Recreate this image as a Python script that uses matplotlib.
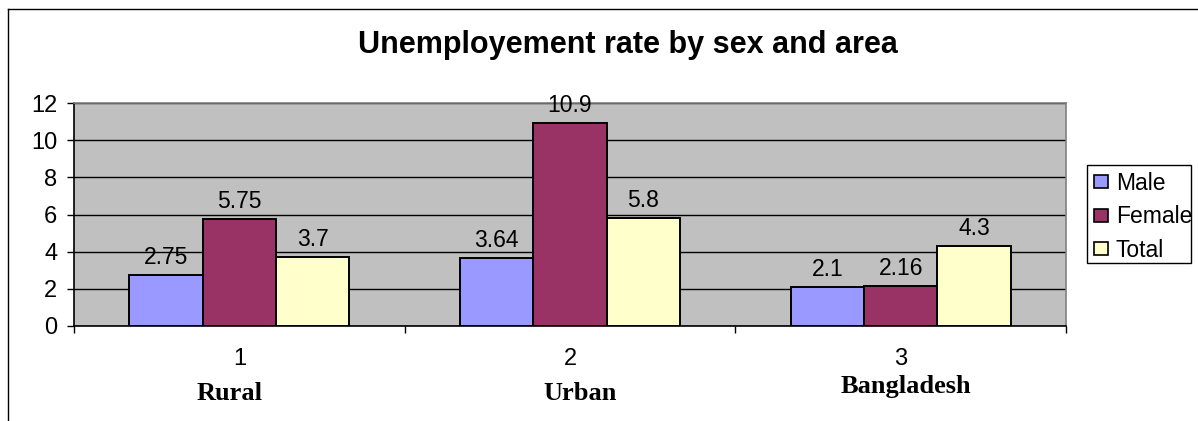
import matplotlib.pyplot as plt
import numpy as np
from matplotlib.lines import Line2D
from matplotlib.patches import Rectangle

areas = ["Rural", "Urban", "Bangladesh"]
tick_nums = ["1", "2", "3"]
series = ["Male", "Female", "Total"]
male = [2.75, 3.64, 2.1]
female = [5.75, 10.9, 2.16]
total = [3.7, 5.8, 4.3]
colors = ["#9999FF", "#993366", "#FFFFCC"]

W, H = 1198, 421
fig = plt.figure(figsize=(W / 100, H / 100), dpi=100)
ax = fig.add_axes([74 / W, 1 - 326 / H, (1066 - 74) / W, (326 - 103) / H])
ax.set_facecolor("#C0C0C0")

x = np.arange(1, 4)
bw = 0.222
for i, (name, vals) in enumerate(zip(series, [male, female, total])):
    pos = x + (i - 1) * bw
    bars = ax.bar(pos, vals, bw, color=colors[i], edgecolor="black",
                  linewidth=1.4, label=name, zorder=3)
    for b, v in zip(bars, vals):
        ax.annotate(f"{v:g}", (b.get_x() + b.get_width() / 2, v),
                    xytext=(0, 11), textcoords="offset pixels",
                    ha="center", va="baseline", fontsize=16.5,
                    family="Liberation Sans", annotation_clip=False)

ax.set_xlim(0.5, 3.5)
ax.set_ylim(0, 12)
ax.set_yticks(range(0, 13, 2))
ax.yaxis.grid(True, color="black", linewidth=1, zorder=1)
ax.set_axisbelow(True)
ax.tick_params(axis="y", direction="out", length=5, width=1, pad=7,
               labelsize=17)
for lab in ax.get_yticklabels():
    lab.set_family("Liberation Sans")

ax.set_xticks([0.5, 1.5, 2.5, 3.5])
ax.set_xticklabels([])
ax.tick_params(axis="x", which="major", direction="out", length=5, width=1)
ax.set_xticks(x, minor=True)
ax.set_xticklabels(tick_nums, minor=True, family="Liberation Sans", fontsize=17)
ax.tick_params(axis="x", which="minor", length=0, pad=16)

# hand-placed category captions below the numbers
name_off = [(-10, -68), (10, -68), (5, -61)]
for xi, name, (dx, dy) in zip(x, areas, name_off):
    ax.annotate(name, (xi, 0), xytext=(dx, dy), textcoords="offset pixels",
                ha="center", va="center", fontsize=19, fontweight="bold",
                family="Liberation Serif", annotation_clip=False)

ax.spines["left"].set_color("black")
ax.spines["bottom"].set_color("black")
ax.spines["top"].set_color("#808080")
ax.spines["right"].set_color("#808080")
for s in ax.spines.values():
    s.set_linewidth(1.2)

fig.text(627.5 / W, 1 - 45 / H, "Unemployement rate by sex and area",
         ha="center", va="center", fontsize=22, fontweight="bold",
         family="Liberation Sans")

leg = fig.legend(loc="upper left", bbox_to_anchor=(1094 / W, 1 - 172 / H),
                 frameon=False, prop={"family": "Liberation Sans", "size": 16.5},
                 handlelength=0.6, handleheight=0.5, handletextpad=0.35,
                 borderpad=0, labelspacing=0.45, borderaxespad=0)
for h in leg.legend_handles:
    h.set_linewidth(1.2)
fig.add_artist(Rectangle((1087 / W, 1 - 263 / H), 104 / W, 98 / H,
                         transform=fig.transFigure, fill=False,
                         edgecolor="black", linewidth=1))

fig.add_artist(Line2D([8 / W, 8 / W], [0, 1 - 9 / H], color="black",
                      linewidth=1, transform=fig.transFigure))
fig.add_artist(Line2D([8 / W, 1], [1 - 9 / H, 1 - 9 / H], color="black",
                      linewidth=1, transform=fig.transFigure))

fig.savefig("out.png", dpi=100)
